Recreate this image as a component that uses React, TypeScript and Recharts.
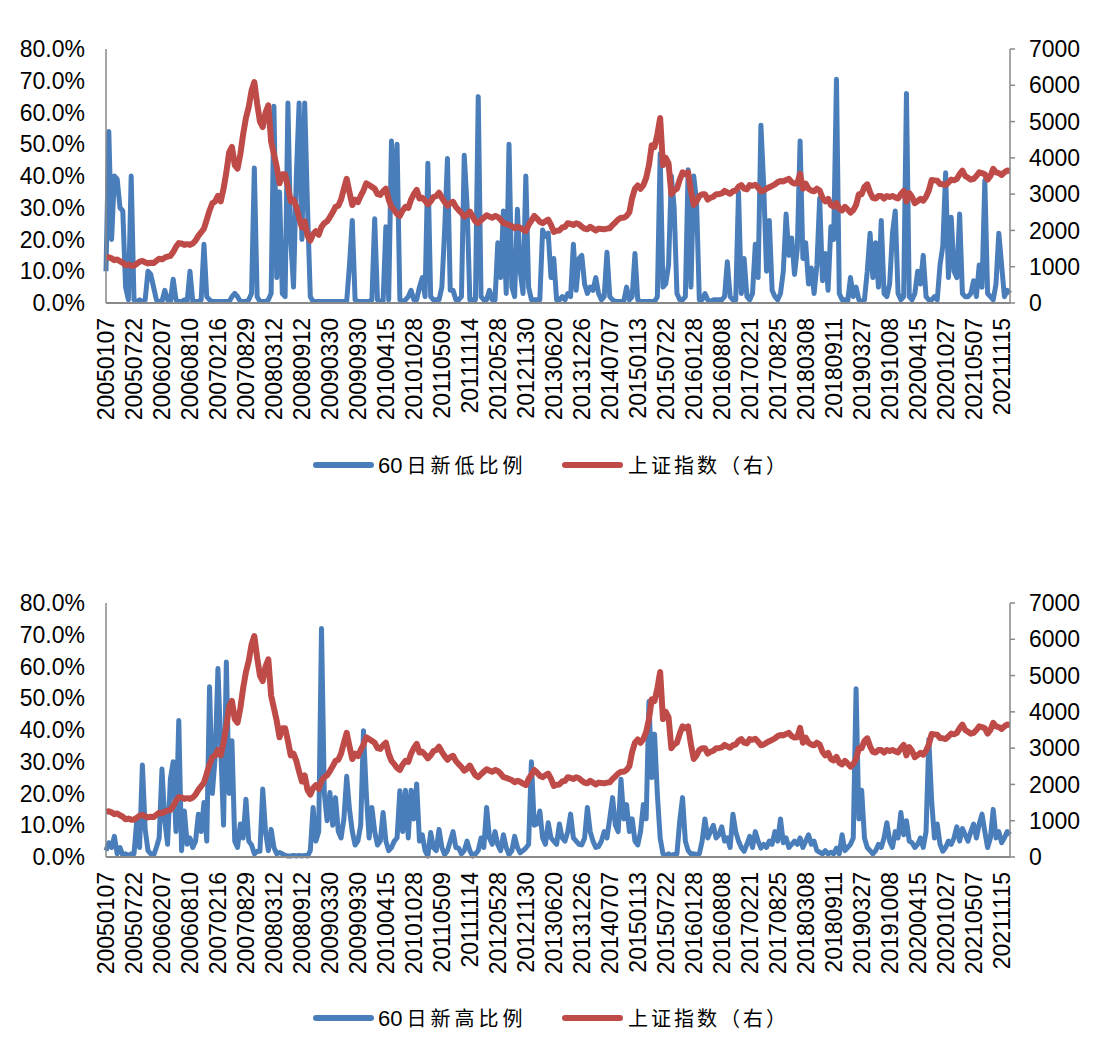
import { LineChart, Line, XAxis, YAxis } from "recharts"

// x-axis labels, one every 10 points
const tickLabels = [
  "20050107", "20050722", "20060207", "20060810", "20070216", "20070829",
  "20080312", "20080912", "20090330", "20090930", "20100415", "20101028",
  "20110509", "20111114", "20120528", "20121130", "20130620", "20131226",
  "20140707", "20150113", "20150722", "20160128", "20160808", "20170221",
  "20170825", "20180308", "20180911", "20190327", "20191008", "20200415",
  "20201027", "20210507", "20211115",
]

// 上证指数 (right axis), 10 points per label interval
const sseIndex = [
  1250, 1260, 1230, 1180, 1200, 1150, 1110, 1040, 1060, 1030,
  1030, 1080, 1140, 1160, 1120, 1090, 1110, 1100, 1160, 1220,
  1200, 1250, 1280, 1300, 1400, 1550, 1650, 1640, 1600, 1620,
  1600, 1640, 1720, 1850, 1950, 2050, 2300, 2550, 2750, 2800,
  2950, 2800, 3150, 3600, 4150, 4300, 3800, 3700, 4100, 4650,
  5100, 5400, 5850, 6090, 5500, 5000, 4850, 5250, 5450, 4450,
  4100, 3750, 3300, 3550, 3550, 3200, 2800, 2850, 2650, 2350,
  2080, 2250, 1850, 1720, 1900, 1980, 1880, 2100, 2200, 2250,
  2370, 2500, 2650, 2680, 2850, 3150, 3420, 3050, 2700, 2850,
  2780, 2950, 3100, 3300, 3250, 3200, 3150, 3000, 2980, 3080,
  3150, 2850, 2650, 2560, 2450, 2400, 2550, 2650, 2620, 2850,
  3000, 3120, 2880, 2900, 2820, 2720, 2800, 2920, 2950, 3040,
  2900, 2780, 2680, 2750, 2790, 2650, 2560, 2480, 2380, 2430,
  2520, 2380, 2250, 2200, 2280, 2350, 2420, 2380, 2350, 2400,
  2370, 2300, 2200, 2180, 2150, 2120, 2060, 2100, 2070, 2020,
  1980, 2150, 2270, 2400, 2330, 2240, 2200, 2250, 2300, 2150,
  1960, 1990, 2000, 2080, 2100, 2200, 2180, 2150, 2200, 2170,
  2100, 2050, 2030, 2100, 2050, 2000, 2050, 2040, 2030, 2050,
  2060, 2150, 2220, 2300, 2350, 2350, 2400, 2500, 2900, 3150,
  3240, 3150, 3250, 3450, 3800, 4350, 4300, 4650, 5100, 3800,
  4000, 3850, 3000, 3100, 3150, 3400, 3600, 3550, 3600, 3100,
  2700, 2800, 2950, 3000, 3000, 2850, 2900, 2930, 3000, 3000,
  3020, 3090, 3050, 3010, 3080, 3100, 3200, 3250, 3150, 3130,
  3250, 3230, 3260, 3180, 3080, 3100, 3150, 3190, 3230, 3270,
  3330, 3360, 3350, 3390, 3420, 3330, 3290, 3300, 3560, 3150,
  3290, 3150, 3100, 3080, 3150, 3100, 2900, 2800, 2870, 2700,
  2660, 2760, 2600, 2550, 2650, 2580, 2490, 2560, 2700, 3000,
  3000, 3200, 3270, 3050, 2900, 2880, 2950, 2950, 2880, 2950,
  2920, 2950, 2910, 2880, 3000, 3090, 2800, 3030, 2920, 2750,
  2810, 2870, 2820, 2930, 3100, 3390, 3380, 3370, 3280, 3270,
  3250, 3320, 3400, 3380, 3420, 3550, 3650, 3500, 3450, 3400,
  3420, 3500, 3600, 3580, 3550, 3400, 3500, 3700, 3600, 3580,
  3530, 3600, 3650, 3640,
]

// 60日新低比例 (%)
const newLowRatio = [
  10, 54, 20, 40, 39, 30, 29, 5, 1, 40,
  1, 0.5, 1, 0.5, 1, 10, 9, 5, 1, 0.5,
  0.5, 4, 1, 0.5, 7.5, 1, 0.5, 0.5, 1, 0.5,
  10, 0.5, 0.5, 0.5, 1, 18.5, 2, 1, 0.5, 0.5,
  0.5, 0.5, 0.5, 0.5, 0.5, 2, 3, 2, 0.5, 0.5,
  0.5, 1, 3, 42.5, 2, 0.5, 0.5, 0.5, 1, 3,
  62, 8, 35, 3, 2, 63, 20, 5, 40, 63,
  20, 63, 30, 2, 0.5, 0.5, 0.5, 0.5, 0.5, 0.5,
  0.5, 0.5, 0.5, 0.5, 0.5, 0.5, 0.5, 12, 26, 1,
  0.5, 0.5, 0.5, 0.5, 0.5, 1, 26.5, 1, 0.5, 0.5,
  24, 1, 51, 30, 50, 1, 0.5, 1, 2, 4,
  1, 1, 5, 8, 2, 44, 2, 1, 1, 1,
  5, 23, 45.5, 4, 4, 1, 1, 2, 46.5, 31,
  1, 1, 1, 65, 2, 1, 1, 4, 1, 1,
  19, 8, 29, 3, 50, 5, 2, 29.5, 10, 3,
  40, 5, 1, 1, 1, 1, 23, 21, 22, 8,
  14, 1, 1, 2, 1, 3, 2, 18.5, 4, 14,
  15, 6, 3, 5, 4, 8, 3, 1, 2, 16,
  2, 1, 0.5, 0.5, 0.5, 0.5, 5, 1, 2, 15.6,
  1, 0.5, 0.5, 0.5, 0.5, 0.5, 0.5, 2, 47, 5,
  6, 12, 40, 30, 3, 1, 1, 2, 42, 5,
  40, 32, 1, 1, 3, 1, 0.5, 1, 1, 1,
  1, 2, 13, 2, 1, 1, 35, 3, 14, 2,
  1, 3, 18.5, 8, 56, 37, 10, 26, 4, 2,
  1, 3, 10, 28, 15, 20.5, 9, 17, 51, 14,
  19, 6, 11, 3, 12, 33, 7, 15.6, 4, 24,
  20, 70.5, 3, 1, 1, 0.5, 8, 2, 5, 1,
  0.5, 1, 10, 22, 8, 19, 5, 26, 3, 2,
  6, 22, 29, 3, 1, 2, 66, 2, 1, 3,
  10, 6, 15, 2, 1, 1, 2, 1, 12, 18,
  41, 8, 27, 10, 8, 28, 3, 2, 2, 3,
  7, 2, 12, 5, 38.6, 3, 2, 1, 6, 22,
  12, 2, 4, 3,
]

// 60日新高比例 (%)
const newHighRatio = [
  2, 4.5, 3, 6.5, 1, 3, 0.5, 1, 0.5, 1,
  1, 11.5, 3, 29, 8.7, 2, 1, 0.5, 3, 6,
  27.7, 11.4, 4, 24.5, 30, 8, 43, 2, 14.5, 4,
  6, 3, 5, 13.5, 8, 17.2, 5, 53.6, 20, 31.5,
  59.4, 34.6, 10, 61.4, 20, 36.6, 5, 3, 10.4, 6,
  18.2, 5, 3.8, 1, 1.8, 1.8, 21.4, 8, 2, 8.7,
  3, 1, 1.4, 1, 0.5, 0.3, 0.3, 0.5, 0.3, 0.5,
  0.3, 0.5, 0.3, 2, 15.6, 5, 8, 72, 20, 11.4,
  20.3, 10, 18.7, 8, 6, 12, 25.4, 15, 8, 3.8,
  5, 10, 39.8, 20, 6, 15.6, 8, 3.8, 5, 14,
  5, 2, 3, 5, 6, 20.9, 8, 21, 6, 21,
  12, 23, 5, 7, 2, 0.3, 7.7, 3, 2, 8.7,
  3, 0.8, 2, 5, 8, 3, 2.8, 1, 2, 5,
  2, 0.3, 1, 2, 6, 3, 15.6, 6, 4, 8,
  3.8, 2, 7, 3, 0.8, 2, 6.5, 3, 1.3, 2,
  2.8, 4, 30, 10, 10.4, 14.5, 6, 4, 10.8, 6,
  5, 4, 10.4, 6, 5, 8, 13.5, 6, 5, 4,
  3.8, 6, 15.6, 8, 5, 3, 3.3, 5, 8, 6,
  12.2, 18.7, 10, 8, 24.5, 12, 16.5, 8, 12, 5,
  3.8, 8, 16.5, 12, 49, 25, 38.7, 19.7, 6, 1,
  0.5, 1, 0.5, 0.8, 1, 11.4, 18.7, 5, 2, 1,
  1, 0.8, 1, 5, 12, 6, 8, 10, 6, 7,
  9.5, 5, 6, 3, 13.5, 8, 5, 3, 1.8, 4,
  6.5, 3, 8, 5, 2.8, 4, 3, 5, 4, 8,
  5, 12, 4.5, 6, 3, 4, 5, 4, 6, 3,
  5, 7, 4, 5, 2, 1.5, 1, 2, 1, 1.5,
  1, 2.8, 1, 7, 2, 3, 4, 6, 53, 12,
  21, 6, 3, 2, 1, 2, 4, 3, 6, 10.8,
  5, 3, 8, 6, 14, 7, 11.4, 5, 4.5, 3,
  4, 6, 3, 8, 37, 17.7, 6, 10.4, 4, 1.8,
  3, 5, 4, 6, 9.5, 5, 9, 7, 5, 8,
  10.4, 6, 10.4, 13.5, 8, 3, 6, 15, 6, 8,
  4.5, 6, 8, 7,
]

const BLUE = "#4A7EBB"
const RED = "#BE4B48"
const AXIS = "#898989"
const FONT = "'Liberation Sans', Arial, sans-serif"
const CJK = "'Noto Sans CJK SC', sans-serif"

const rows = sseIndex.map((sse, i) => ({
  i,
  sse,
  low: newLowRatio[i],
  high: newHighRatio[i],
}))

const lastIndex = rows.length - 1
const xTicks = tickLabels.map((_, k) => k * 10)
const leftTicks = [0, 10, 20, 30, 40, 50, 60, 70, 80]
const rightTicks = [0, 1000, 2000, 3000, 4000, 5000, 6000, 7000]

function DateTick({ x, y, payload }: any) {
  const label = tickLabels[Math.round(payload.value / 10)]
  return (
    <text
      x={x}
      y={y}
      transform={`rotate(-90 ${x} ${y})`}
      textAnchor="end"
      dominantBaseline="central"
      fontSize={23}
      fontFamily={FONT}
      fill="#000"
    >
      {label}
    </text>
  )
}

function Panel({ top, dataKey }: { top: number; dataKey: string }) {
  return (
    <div style={{ position: "absolute", left: 0, top }}>
      <LineChart
        width={1101}
        height={440}
        data={rows}
        margin={{ top: 49, right: 0, bottom: 0, left: 0 }}
      >
        <XAxis
          dataKey="i"
          type="number"
          domain={[0, lastIndex]}
          ticks={xTicks}
          interval={0}
          height={137}
          tickLine={false}
          tickSize={0}
          tickMargin={15}
          axisLine={{ stroke: AXIS, strokeWidth: 2 }}
          tick={<DateTick />}
        />
        <YAxis
          yAxisId="left"
          domain={[0, 80]}
          ticks={leftTicks}
          width={106}
          tickLine={false}
          tickSize={0}
          tickMargin={21}
          axisLine={{ stroke: AXIS, strokeWidth: 1.5 }}
          tickFormatter={(v: number) => `${v.toFixed(1)}%`}
          tick={{ fontSize: 23, fill: "#000", fontFamily: FONT }}
        />
        <YAxis
          yAxisId="right"
          orientation="right"
          domain={[0, 7000]}
          ticks={rightTicks}
          width={91}
          tickSize={5}
          tickMargin={14}
          tickLine={{ stroke: AXIS, strokeWidth: 1.5 }}
          axisLine={{ stroke: AXIS, strokeWidth: 1.5 }}
          tick={{ fontSize: 23, fill: "#000", fontFamily: FONT, textAnchor: "start" }}
        />
        <Line
          yAxisId="left"
          type="linear"
          dataKey={dataKey}
          stroke={BLUE}
          strokeWidth={5}
          strokeLinejoin="round"
          dot={false}
          activeDot={false}
          isAnimationActive={false}
        />
        <Line
          yAxisId="right"
          type="linear"
          dataKey="sse"
          stroke={RED}
          strokeWidth={6}
          strokeLinejoin="round"
          dot={false}
          activeDot={false}
          isAnimationActive={false}
        />
      </LineChart>
    </div>
  )
}

function LegendRow({ centerY, label }: { centerY: number; label: string }) {
  const swatch = (left: number, color: string) => (
    <div
      style={{
        position: "absolute",
        left,
        top: centerY - 3,
        width: 61,
        height: 6,
        borderRadius: 3,
        background: color,
      }}
    />
  )
  const text = (left: number, content: React.ReactNode) => (
    <div
      style={{
        position: "absolute",
        left,
        top: centerY - 15,
        height: 30,
        lineHeight: "30px",
        whiteSpace: "nowrap",
        color: "#000",
      }}
    >
      {content}
    </div>
  )
  return (
    <>
      {swatch(313, BLUE)}
      {text(
        378,
        <>
          <span style={{ fontFamily: FONT, fontSize: 22 }}>60</span>
          <span style={{ fontFamily: CJK, fontSize: 20, letterSpacing: 4, marginLeft: 4 }}>{label}</span>
        </>
      )}
      {swatch(562, RED)}
      {text(
        628,
        <span style={{ fontFamily: CJK, fontSize: 20, letterSpacing: 3 }}>上证指数（右）</span>
      )}
    </>
  )
}

export default function App() {
  return (
    <div
      style={{
        position: "absolute",
        left: 0,
        top: 0,
        width: 1101,
        height: 1044,
        background: "#fff",
        overflow: "hidden",
      }}
    >
      <Panel top={0} dataKey="low" />
      <LegendRow centerY={465} label="日新低比例" />
      <Panel top={554} dataKey="high" />
      <LegendRow centerY={1018} label="日新高比例" />
    </div>
  )
}
